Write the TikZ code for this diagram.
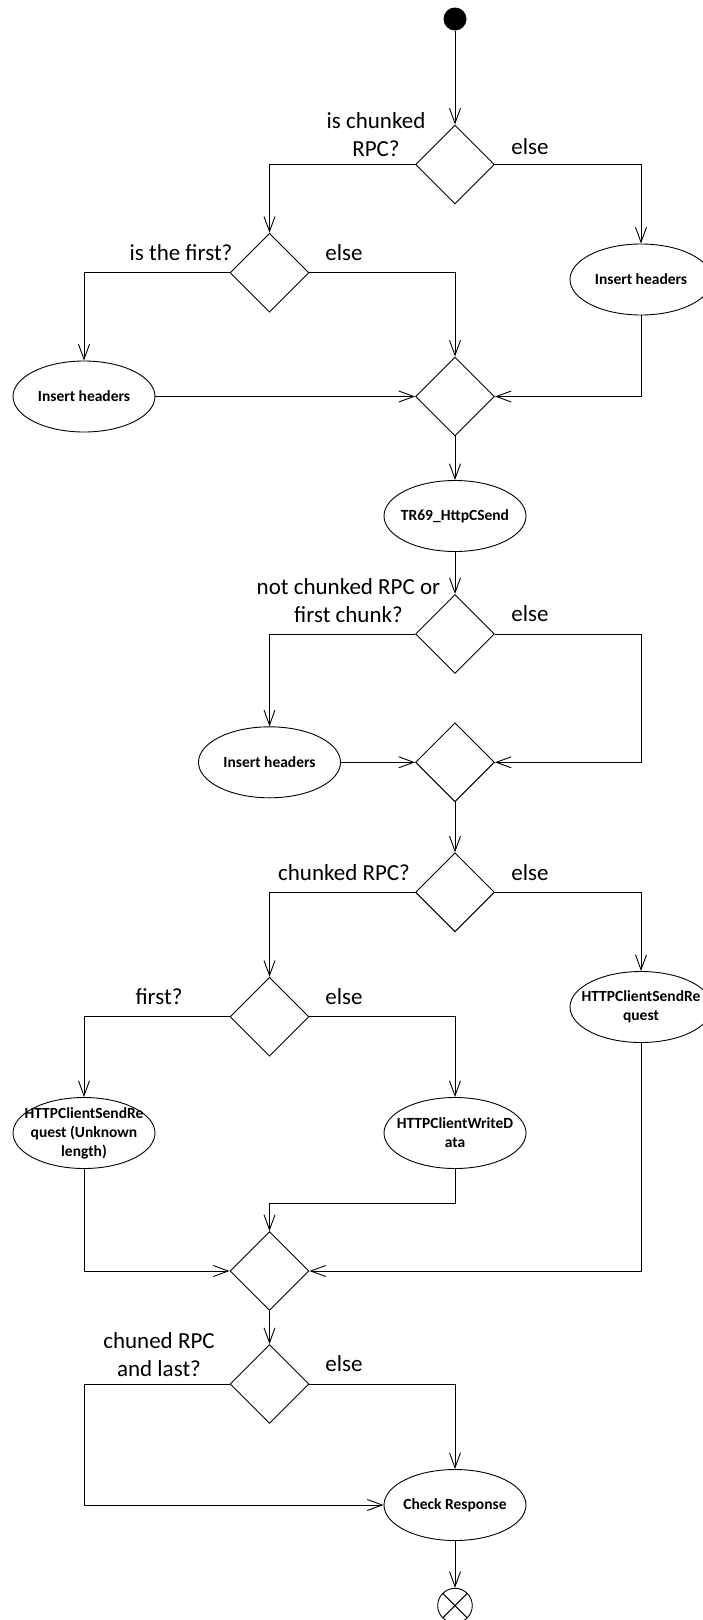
\documentclass[tikz,border=0pt]{standalone}
\usepackage{fontspec}
\setmainfont{Carlito}
\usetikzlibrary{shapes.geometric,arrows.meta}
\begin{document}
\begin{tikzpicture}[x=1pt,y=-1pt,line width=0.9pt,
  startdot/.style={circle,fill=black,minimum size=23pt,inner sep=0pt},
  enddot/.style={circle,draw,minimum size=34.6pt,inner sep=0pt,
    path picture={\draw (path picture bounding box.north west) -- (path picture bounding box.south east)
                        (path picture bounding box.north east) -- (path picture bounding box.south west);}},
  decision/.style={diamond,draw,minimum width=79pt,minimum height=79pt,inner sep=0pt},
  action/.style={ellipse,draw,minimum width=142pt,minimum height=71pt,inner sep=0pt},
  acttext/.style={font=\fontsize{15.5}{19}\selectfont\bfseries,align=center,inner sep=0pt},
  guard/.style={font=\fontsize{23}{28}\selectfont,align=center,inner sep=0pt,anchor=base},
  flow/.style={-{Straight Barb[length=15pt,width=11pt]}},
]
\clip (0,0) rectangle (703,1620);

% control nodes
\node[startdot] (start) at (455,19) {};
\node[decision] (d1) at (455,164.5) {};
\node[decision] (d2) at (269.5,272.7) {};
\node[decision] (m1) at (455,396.5) {};
\node[decision] (d4) at (455,634) {};
\node[decision] (m2) at (455,762.3) {};
\node[decision] (d6) at (455,892.3) {};
\node[decision] (d7) at (269.5,1016.7) {};
\node[decision] (m3) at (269.5,1271) {};
\node[decision] (d9) at (269.5,1384) {};
\node[enddot] (stop) at (455,1605.6) {};

% actions
\node[action,label={[acttext]center:Insert headers}] (hdrR) at (641,279.5) {};
\node[action,label={[acttext]center:Insert headers}] (hdrL) at (84,396.5) {};
\node[action,label={[acttext]center:TR69\_HttpCSend}] (send) at (455,516) {};
\node[action,label={[acttext]center:Insert headers}] (hdr2) at (269.5,762.3) {};
\node[action,label={[acttext]center:HTTPClientSendRe\\quest}] (req) at (641,1007) {};
\node[action,label={[acttext]center:HTTPClientSendRe\\quest (Unknown\\length)}] (reqU) at (84,1133) {};
\node[action,label={[acttext]center:HTTPClientWriteD\\ata}] (write) at (455,1133) {};
\node[action,label={[acttext]center:Check Response}] (check) at (455,1505) {};

% guards (anchored on the baseline of their last line)
\node[guard] (g1) at (376,156) {is chunked\\RPC?};
\node[guard] (e1) at (530,154) {else};
\node[guard] (g2) at (181,260) {is the first?};
\node[guard] (e2) at (344,260) {else};
\node[guard] (g4) at (348.5,622) {not chunked RPC or\\first chunk?};
\node[guard] (e4) at (530,621.7) {else};
\node[guard] (g6) at (344,880.7) {chunked RPC?};
\node[guard] (e6) at (530,880.7) {else};
\node[guard] (g7) at (159,1004.3) {first?};
\node[guard] (e7) at (344,1004.3) {else};
\node[guard] (g9) at (159,1376.5) {chuned RPC\\and last?};
\node[guard] (e9) at (344,1371.7) {else};

% helper points for routed connectors
\coordinate (kink) at (455,1203.3);
\coordinate (lowleft) at (84,1505);

% connectors
\draw[flow] (start) -- (d1);
\draw[flow] (d1.west) -| (d2.north);
\draw[flow] (d1.east) -| (hdrR.north);
\draw[flow] (d2.west) -| (hdrL.north);
\draw[flow] (d2.east) -| (m1.north);
\draw[flow] (hdrL.east) -- (m1.west);
\draw[flow] (hdrR.south) |- (m1.east);
\draw[flow] (m1.south) -- (send.north);
\draw[flow] (send.south) -- (d4.north);
\draw[flow] (d4.west) -| (hdr2.north);
\draw[flow] (d4.east) -| (hdrR |- m2) -- (m2.east);
\draw[flow] (hdr2.east) -- (m2.west);
\draw[flow] (m2.south) -- (d6.north);
\draw[flow] (d6.west) -| (d7.north);
\draw[flow] (d6.east) -| (req.north);
\draw[flow] (d7.west) -| (reqU.north);
\draw[flow] (d7.east) -| (write.north);
\draw[flow] (write.south) -- (kink) -| (m3.north);
\draw[flow] (reqU.south) |- (m3.west);
\draw[flow] (req.south) |- (m3.east);
\draw[flow] (m3.south) -- (d9.north);
\draw[flow] (d9.west) -| (lowleft) -- (check.west);
\draw[flow] (d9.east) -| (check.north);
\draw[flow] (check.south) -- (stop.north);
\end{tikzpicture}
\end{document}
